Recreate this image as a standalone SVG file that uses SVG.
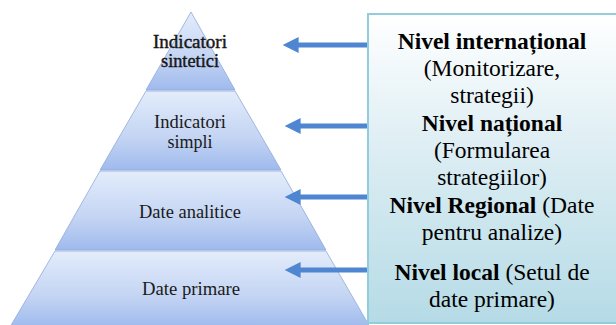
<svg xmlns="http://www.w3.org/2000/svg" width="616" height="325" viewBox="0 0 616 325">
  <defs>
    <linearGradient id="band" x1="0" y1="0" x2="0" y2="1">
      <stop offset="0" stop-color="#e3ecfb"/>
      <stop offset="0.6" stop-color="#c3d4f3"/>
      <stop offset="1" stop-color="#9fbaed"/>
    </linearGradient>
    <linearGradient id="boxFill" x1="0" y1="0" x2="0" y2="1">
      <stop offset="0" stop-color="#ffffff"/>
      <stop offset="0.45" stop-color="#dcedf3"/>
      <stop offset="1" stop-color="#b5dbe6"/>
    </linearGradient>
    <marker id="head" viewBox="0 0 10 10" refX="1" refY="5" markerWidth="3.4" markerHeight="3.2" orient="auto-start-reverse" markerUnits="strokeWidth">
      <path d="M0,0 L10,5 L0,10 z" fill="#4f86d2"/>
    </marker>
  </defs>
  <style>
    .band { fill: url(#band); stroke: #8faad8; stroke-width: 0.8; }
    text { font-family: "Liberation Serif", "Times New Roman", serif; }
    .lvl { font-size: 18px; fill: #1a1a1a; text-anchor: middle; }
    .txt { font-size: 23.5px; fill: #000; text-anchor: middle; }
    .b { font-weight: bold; }
    .arrow { stroke: #4f86d2; stroke-width: 5; fill: none; }
  </style>

  <!-- pyramid layers, top to bottom -->
  <g id="layer-sintetici">
    <path class="band" d="M191,12 L235,90 L146,90 Z"/>
    <text class="lvl" x="190" y="48" textLength="74" lengthAdjust="spacingAndGlyphs" stroke="#111" stroke-width="0.4">Indicatori</text>
    <text class="lvl" x="190" y="67" textLength="58" lengthAdjust="spacingAndGlyphs" stroke="#111" stroke-width="0.4">sintetici</text>
  </g>
  <g id="layer-simpli">
    <path class="band" d="M146,91 L235,91 L281,170 L100,170 Z"/>
    <text class="lvl" x="190" y="128" textLength="72" lengthAdjust="spacingAndGlyphs">Indicatori</text>
    <text class="lvl" x="190" y="148">simpli</text>
  </g>
  <g id="layer-analitice">
    <path class="band" d="M100,171 L281,171 L326,250 L55,250 Z"/>
    <text class="lvl" x="190" y="218" textLength="102" lengthAdjust="spacingAndGlyphs">Date analitice</text>
  </g>
  <g id="layer-primare">
    <path class="band" d="M55,251 L326,251 L370,327 L10,327 Z"/>
    <text class="lvl" x="191" y="295" textLength="98" lengthAdjust="spacingAndGlyphs">Date primare</text>
  </g>

  <!-- levels box -->
  <g id="levels">
    <rect x="368" y="14" width="260" height="309" fill="url(#boxFill)" stroke="#92cddc" stroke-width="2"/>
    <text class="txt b" x="492" y="49">Nivel internațional</text>
    <text class="txt" x="492" y="76">(Monitorizare,</text>
    <text class="txt" x="492" y="103">strategii)</text>
    <text class="txt b" x="492" y="131">Nivel național</text>
    <text class="txt" x="492" y="158">(Formularea</text>
    <text class="txt" x="492" y="185">strategiilor)</text>
    <text class="txt" x="492" y="213"><tspan class="b">Nivel Regional</tspan> (Date</text>
    <text class="txt" x="492" y="240">pentru analize)</text>
    <text class="txt" x="492" y="280"><tspan class="b">Nivel local</tspan> (Setul de</text>
    <text class="txt" x="492" y="307">date primare)</text>
  </g>

  <!-- connectors -->
  <g id="connectors">
    <line class="arrow" x1="367" y1="45" x2="297" y2="45" marker-end="url(#head)"/>
    <line class="arrow" x1="367" y1="126" x2="299" y2="126" marker-end="url(#head)"/>
    <line class="arrow" x1="367" y1="197" x2="299" y2="197" marker-end="url(#head)"/>
    <line class="arrow" x1="367" y1="270" x2="299" y2="270" marker-end="url(#head)"/>
  </g>
</svg>
